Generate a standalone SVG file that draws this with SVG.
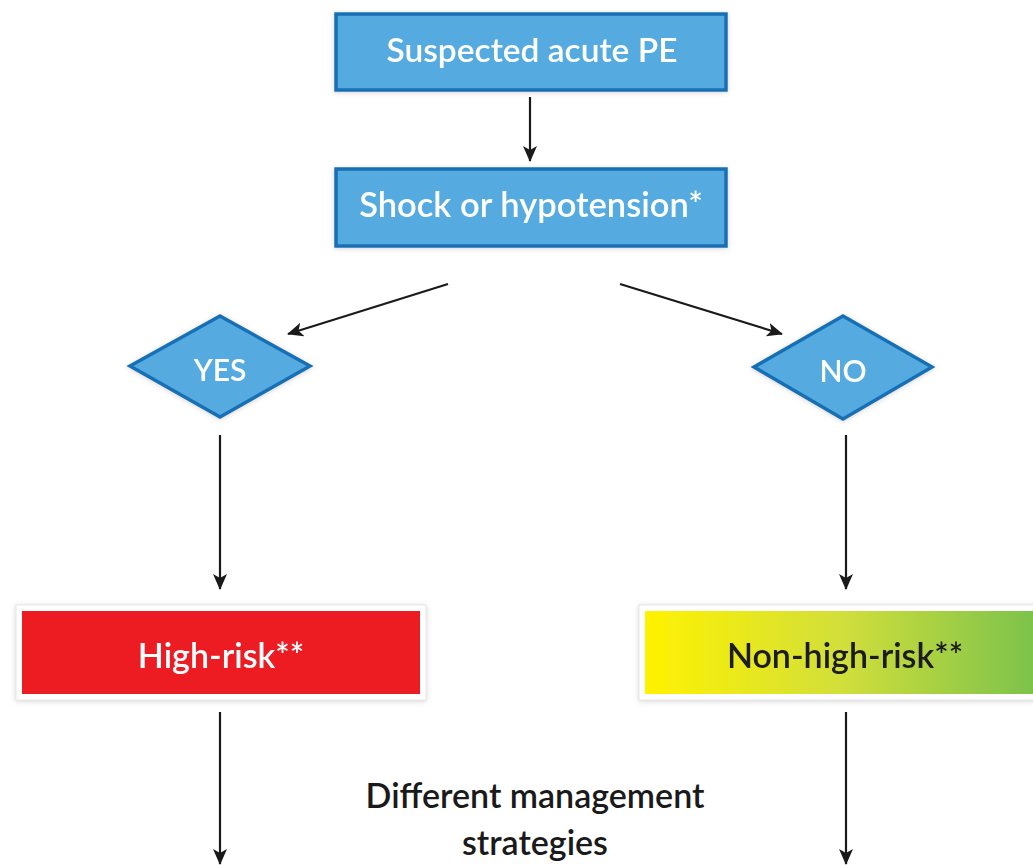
<svg xmlns="http://www.w3.org/2000/svg" width="1033" height="865" viewBox="0 0 1033 865">
<defs>
<style>
.box{fill:#55abe0;stroke:#1670b6;stroke-width:3.5}
.dia{fill:#55abe0;stroke:#1670b6;stroke-width:3.5}
.wt{font-family:Lato,"Open Sans",sans-serif;font-weight:600;fill:#ffffff;text-anchor:middle}
.bt{font-family:Lato,"Open Sans",sans-serif;font-weight:600;fill:#1a1a1a;text-anchor:middle}
.ln{stroke:#1a1a1a;stroke-width:2.2;fill:none;marker-end:url(#ah)}
.frame{fill:#ffffff;stroke:#e6e6e6;stroke-width:1}
</style>
<marker id="ah" viewBox="0 0 16 16" refX="15" refY="8" markerWidth="16" markerHeight="16" markerUnits="userSpaceOnUse" orient="auto">
<path d="M0,1 L16,8 L0,15 L4,8 Z" fill="#1a1a1a"/>
</marker>
<linearGradient id="yg" x1="0" y1="0" x2="1" y2="0">
<stop offset="0" stop-color="#fff200"/>
<stop offset="0.5" stop-color="#d2df3a"/>
<stop offset="1" stop-color="#7cc24c"/>
</linearGradient>
<filter id="sh" x="-10%" y="-20%" width="120%" height="140%">
<feDropShadow dx="0" dy="1" stdDeviation="2.5" flood-color="#888" flood-opacity="0.35"/>
</filter>
</defs>
<rect width="1033" height="865" fill="#ffffff"/>
<g id="connectors">
<line class="ln" x1="530" y1="97" x2="530" y2="161"/>
<line class="ln" x1="448" y1="284" x2="288" y2="334"/>
<line class="ln" x1="620" y1="284" x2="782" y2="334"/>
<line class="ln" x1="220" y1="435" x2="220" y2="589"/>
<line class="ln" x1="846" y1="435" x2="846" y2="589"/>
<line class="ln" x1="220" y1="712" x2="220" y2="864"/>
<line class="ln" x1="846" y1="712" x2="846" y2="864"/>
</g>
<g id="n1" filter="url(#sh)">
<rect class="box" x="336" y="14" width="390" height="76"/>
<text class="wt" x="532" y="62" font-size="33.5">Suspected acute PE</text>
</g>
<g id="n2" filter="url(#sh)">
<rect class="box" x="336" y="169" width="390" height="77"/>
<text class="wt" x="531" y="217" font-size="34.5">Shock or hypotension*</text>
</g>
<g id="yes" filter="url(#sh)">
<polygon class="dia" points="220,316 310,366 220,417 130,366"/>
<text class="wt" x="220" y="381" font-size="30">YES</text>
</g>
<g id="no" filter="url(#sh)">
<polygon class="dia" points="843,316 932,367 843,419 754,367"/>
<text class="wt" x="843" y="382" font-size="30">NO</text>
</g>
<g id="high" filter="url(#sh)">
<rect class="frame" x="16" y="605" width="410" height="95"/>
<rect x="22" y="611" width="398" height="83" fill="#ed1c24"/>
<text class="wt" x="221" y="668" font-size="34">High-risk**</text>
</g>
<g id="nonhigh" filter="url(#sh)">
<rect class="frame" x="639" y="605" width="400" height="95"/>
<rect x="645" y="611" width="390" height="83" fill="url(#yg)"/>
<text class="bt" x="845" y="668" font-size="34">Non-high-risk**</text>
</g>
<g id="label">
<text class="bt" x="535" y="808" font-size="34">Different management</text>
<text class="bt" x="535" y="855" font-size="34">strategies</text>
</g>
</svg>
